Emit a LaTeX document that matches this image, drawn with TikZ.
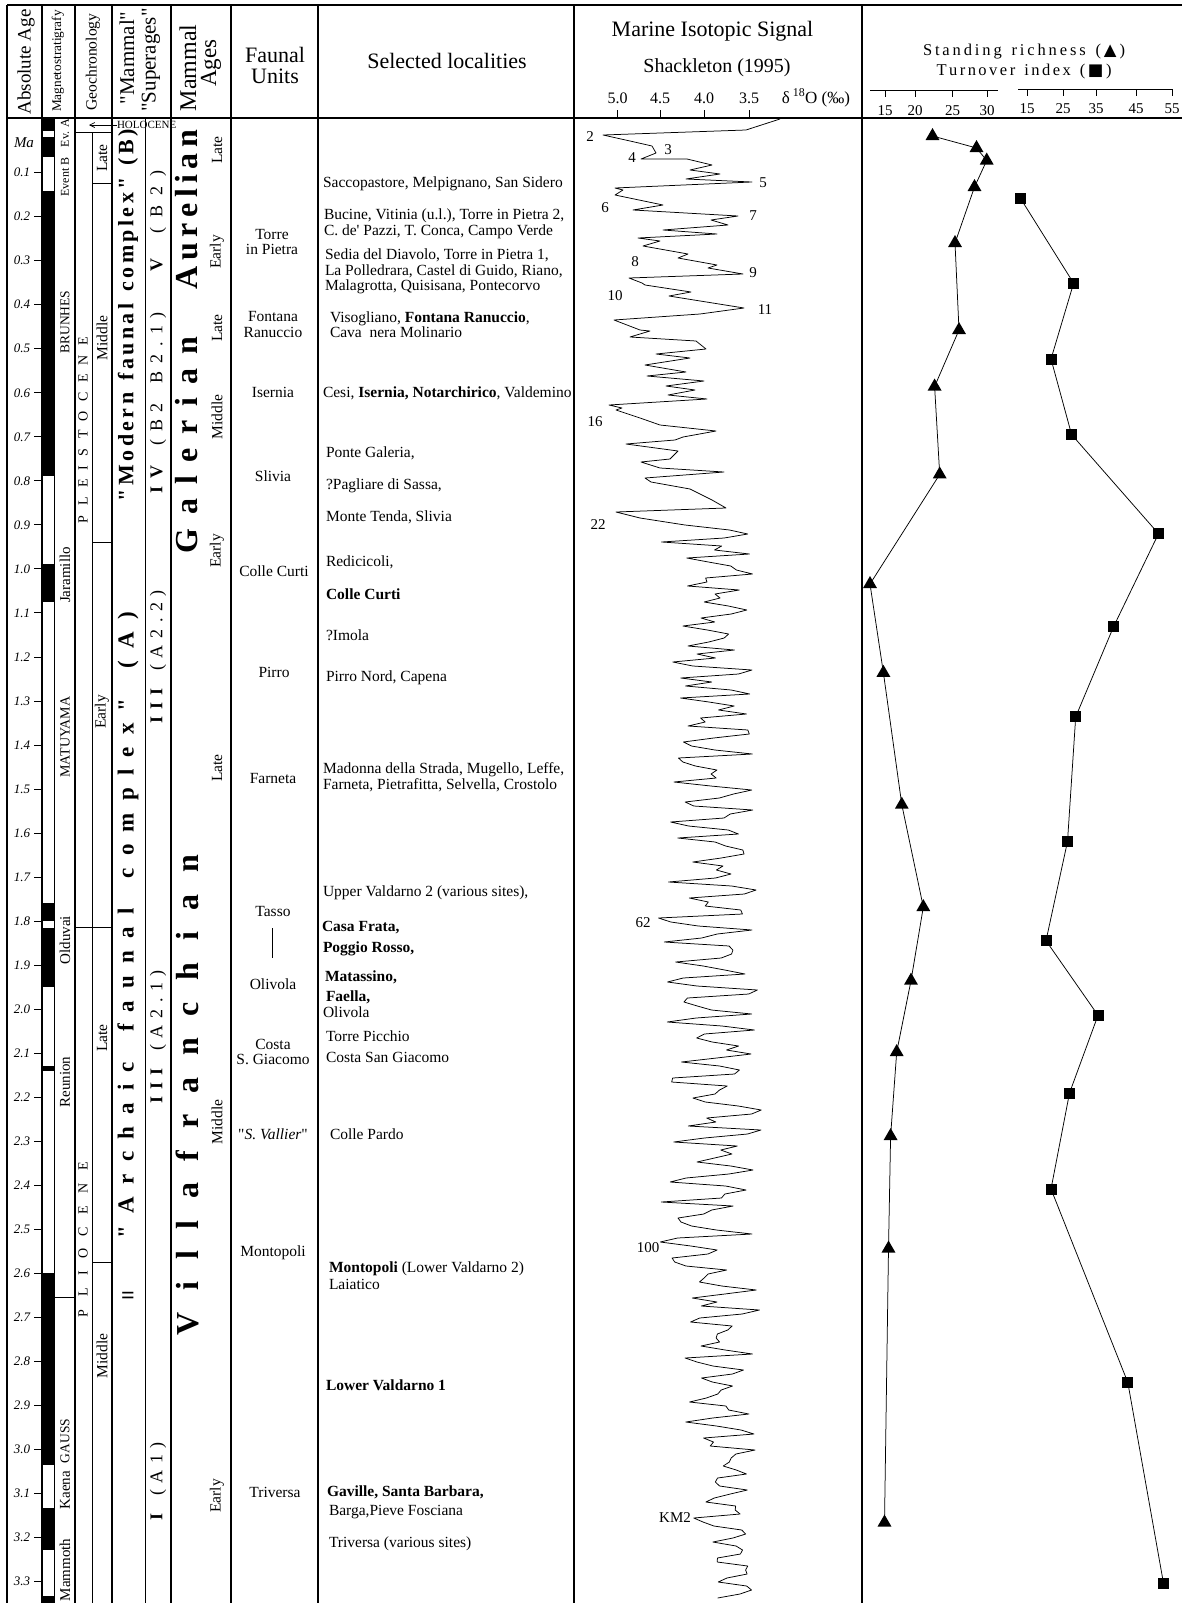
\documentclass[tikz,border=0pt]{standalone}
\usepackage{fontspec}
\setmainfont{Liberation Serif}[Ligatures=TeXOff]
\newfontfamily\symfont{DejaVu Sans}
\usetikzlibrary{shapes.geometric,arrows.meta}
\newcommand\fsz[1]{\fontsize{#1}{#1}\selectfont}
\newcommand\spreadit[2]{\hbox to #1{\spreadfirst#2\relax}}
\def\spreadfirst#1{#1\spreadaux}
\def\spreadaux#1{\ifx#1\relax\else\hfill#1\expandafter\spreadaux\fi}
\newcommand\bI{\textbf{I}}
\newcommand\bV{\textbf{V}}
\newcommand\tri{{\symfont ▲}}
\newcommand\sqrmark{{\symfont ■}}
\tikzset{
  every node/.style={inner sep=0pt, outer sep=0pt},
  colline/.style={line width=1.1pt},
  inline/.style={line width=0.9pt},
  loc/.style={anchor=base west, font=\fsz{15.5}},
  locb/.style={anchor=base west, font=\fsz{15.5}\bfseries},
  fu/.style={anchor=base, font=\fsz{15.5}},
  vlab/.style={rotate=90, font=\fsz{15.5}},
  mag/.style={rotate=90, font=\fsz{15}},
  agebig/.style={rotate=90, font=\fsz{32}\bfseries},
  supbig/.style={rotate=90, font=\fsz{22}\bfseries},
  supsm/.style={rotate=90, font=\fsz{18}},
  tlab/.style={font=\fsz{13}\itshape},
  isolab/.style={font=\fsz{15}},
  isocurve/.style={line width=0.75pt, line join=round},
  series/.style={line width=0.75pt},
  tri/.style={regular polygon, regular polygon sides=3, fill=black, minimum size=16pt},
  sq/.style={rectangle, fill=black, minimum size=11pt},
  axnum/.style={anchor=base, font=\fsz{15}},
}
\begin{document}
\begin{tikzpicture}[x=1pt,y=-1pt]
\useasboundingbox (0,0) rectangle (1182,1603);
% magnetic polarity
\foreach \a/\b in {118/131,137/157,191/476,564/602,903/921,928/987,1066/1071,1273/1465,1508/1550,1596/1603}
  \fill (42,\a) rectangle (54,\b);
% frame
\draw[colline] (7,5) -- (1182,5);
\draw[colline] (7,118) -- (1182,118);
\foreach \xx in {7,42,75,112,171,231,318,574,862} \draw[colline] (\xx,5) -- (\xx,1603);
\draw[inline] (54,118) -- (54,1603);
\draw[inline] (145,118) -- (145,1603);
\draw[inline] (92,132) -- (92,1603);
\draw[inline] (75,132) -- (112,132);
\draw[inline] (92,183) -- (112,183);
\draw[inline] (92,542) -- (112,542);
\draw[inline] (75,927) -- (112,927);
\draw[inline] (92,1262) -- (112,1262);
\draw[inline] (54,1297) -- (75,1297);
% headers
\node[rotate=90, font=\fsz{19}] (hAbs) at (26,62) {Absolute Age};
\node[rotate=90, font=\fsz{13.3}] (hMag) at (58,61) {Magnetostratigrafy};
\node[rotate=90, font=\fsz{15.6}] (hGeo) at (93,62) {Geochronology};
\node[rotate=90, font=\fsz{21}] (hMam1) at (127,58) {"Mammal"};
\node[rotate=90, font=\fsz{21}] (hMam2) at (151,60) {"Superages"};
\node[rotate=90, font=\fsz{24}] (hMA1) at (188,68) {Mammal};
\node[rotate=90, font=\fsz{23}] (hMA2) at (211,63) {Ages};
\node[anchor=base, font=\fsz{22}] (hFU1) at (275,63) {Faunal};
\node[anchor=base, font=\fsz{22}] (hFU2) at (275,83) {Units};
\node[anchor=base, font=\fsz{22}] (hSL) at (447,68) {Selected localities};
\node[anchor=base, font=\fsz{22}] (hMI) at (712.5,37) {Marine Isotopic Signal};
\node[anchor=base, font=\fsz{20}] (hSh) at (717,72) {Shackleton (1995)};
\node[anchor=base, font=\fsz{17}] (hd18) at (816,103) {δ\,\textsuperscript{18}O (‰)};
\foreach \xx/\v [count=\i] in {617.7/5.0,660/4.5,704/4.0,749/3.5}{
  \draw[inline] (\xx,110) -- (\xx,118);
  \node[axnum, font=\fsz{16}] (ia\i) at (\xx,103) {\v};
}
\node[anchor=base, font=\fsz{16.5}] (hSR) at (1024,56) {\spreadit{202pt}{Standing~richness~(\tri)}};
\node[anchor=base, font=\fsz{16.5}] (hTI) at (1024,75) {\spreadit{175pt}{Turnover~index~(\sqrmark)}};
\draw[inline] (870,90) -- (998,90);
\foreach \xx/\v in {885/15,915/20,952.5/25,987/30}{
  \draw[inline] (\xx,90) -- (\xx,97);
  \node[axnum] (sa\v) at (\xx,115) {\v};
}
\draw[inline] (1018,89) -- (1172,89);
\foreach \xx/\v in {1027/15,1063/25,1096/35,1136/45,1172/55}{
  \draw[inline] (\xx,89) -- (\xx,96);
  \node[axnum] (ta\v) at (\xx,113) {\v};
}
% age axis
\node[font=\fsz{15}\itshape] (ma) at (24,143) {Ma};
\foreach \k in {1,...,33}{
  \pgfmathsetmacro\yy{128.6+44.03*\k}
  \pgfmathtruncatemacro\ipart{floor(\k/10)}
  \pgfmathtruncatemacro\fpart{\k-10*\ipart}
  \draw[inline] (34,\yy) -- (42,\yy);
  \node[tlab] (age\k) at (22,\yy) {\ipart.\fpart};
}
% holocene
\node[anchor=west, font=\fsz{11}] (holo) at (117,125) {HOLOCENE};
\coordinate (holoend) at (89,125);
\draw[line width=0.7pt, -{Straight Barb[length=5pt,width=5pt]}] (holo.west) -- (holoend);
% magnetostratigraphy labels
\node[mag, font=\fsz{12}] (evA) at (65,133) {Ev. A};
\node[mag, font=\fsz{12}] (evB) at (65,177) {Event B};
\node[mag, font=\fsz{13.5}] (brun) at (65,322) {BRUNHES};
\node[mag] (jar) at (65,575) {Jaramillo};
\node[mag, font=\fsz{14}] (matu) at (65,737) {MATUYAMA};
\node[mag] (oldu) at (65,940) {Olduvai};
\node[mag] (reun) at (65,1082) {Reunion};
\node[mag, font=\fsz{13.5}] (gauss) at (65,1441) {GAUSS};
\node[mag] (kaena) at (65,1490) {Kaena};
\node[mag] (mammoth) at (65,1570) {Mammoth};
% geochronology
\node[rotate=90, font=\fsz{14}] (pleist) at (83,430) {\spreadit{186pt}{PLEISTOCENE}};
\node[rotate=90, font=\fsz{14}] (plio) at (83,1239.5) {\spreadit{155pt}{PLIOCENE}};
\node[vlab] (g1) at (102,158) {Late};
\node[vlab] (g2) at (102,338) {Middle};
\node[vlab] (g3) at (102,712) {Early};
\node[vlab] (g4) at (102,1038) {Late};
\node[vlab] (g5) at (102,1356) {Middle};
% superages
\node[supbig] (modern) at (128,315) {\spreadit{372pt}{"Modern~faunal~complex"~(B)}};
\node[supbig, font=\fsz{23}\bfseries] (archaic) at (128,925) {\spreadit{626pt}{"Archaic~faunal~complex"~(A)}};
\node[font=\fsz{24}\bfseries] (eqs) at (128,1298) {=};
\node[supsm] (s5) at (158,220.5) {\spreadit{101pt}{\bV~(B2)}};
\node[supsm] (s4) at (158,402.5) {\spreadit{181pt}{\bI\bV~(B2~B2.1)}};
\node[supsm] (s3b) at (158,656.5) {\spreadit{133pt}{\bI\bI\bI~(A2.2)}};
\node[supsm] (s3a) at (158,1036.5) {\spreadit{133pt}{\bI\bI\bI~(A2.1)}};
\node[supsm] (s1) at (158,1481) {\spreadit{78pt}{\bI~(A1)}};
% mammal ages
\node[agebig] (aur) at (187,209.5) {\spreadit{159pt}{Aurelian}};
\node[agebig] (gal) at (187,445) {\spreadit{216pt}{Galerian}};
\node[agebig] (vil) at (187,1095) {\spreadit{480pt}{Villafranchian}};
\node[vlab] (m1) at (217,150) {Late};
\node[vlab] (m2) at (217,252) {Early};
\node[vlab] (m3) at (217,328) {Late};
\node[vlab] (m4) at (217,417) {Middle};
\node[vlab] (m5) at (217,551) {Early};
\node[vlab] (m6) at (217,768) {Late};
\node[vlab] (m7) at (217,1122) {Middle};
\node[vlab] (m8) at (217,1496) {Early};
% faunal units
\node[fu] (f1a) at (272,239.5) {Torre};
\node[fu] (f1b) at (272,254.5) {in Pietra};
\node[fu] (f2a) at (273,321.5) {Fontana};
\node[fu] (f2b) at (273,337.5) {Ranuccio};
\node[fu] (f3) at (273,397.5) {Isernia};
\node[fu] (f4) at (273,481.5) {Slivia};
\node[fu] (f5) at (274,576) {Colle Curti};
\node[fu] (f6) at (274,677.5) {Pirro};
\node[fu] (f7) at (273,783.5) {Farneta};
\node[fu] (f8) at (273,916) {Tasso};
\coordinate (tl1) at (272,928);
\coordinate (tl2) at (272,958);
\draw[line width=0.7pt] (tl1) -- (tl2);
\node[fu] (f9) at (273,989.5) {Olivola};
\node[fu] (f10a) at (273,1049.5) {Costa};
\node[fu] (f10b) at (273,1064.5) {S. Giacomo};
\node[fu] (f11) at (273,1139.5) {"\textit{S. Vallier}"};
\node[fu] (f12) at (273,1256.5) {Montopoli};
\node[fu] (f13) at (275,1497.5) {Triversa};
% localities
\node[loc] (l1) at (323,187.5) {Saccopastore, Melpignano, San Sidero};
\node[loc] (l2) at (324,219.5) {Bucine, Vitinia (u.l.), Torre in Pietra 2,};
\node[loc] (l3) at (324,235.5) {C. de' Pazzi, T. Conca, Campo Verde};
\node[loc] (l4) at (325,259.5) {Sedia del Diavolo, Torre in Pietra 1,};
\node[loc] (l5) at (325,275.5) {La Polledrara, Castel di Guido, Riano,};
\node[loc] (l6) at (325,290.5) {Malagrotta, Quisisana, Pontecorvo};
\node[loc] (l7) at (330,322.5) {Visogliano, \textbf{Fontana Ranuccio},};
\node[loc] (l8) at (330,337.5) {Cava\ \ nera Molinario};
\node[loc] (l9) at (323,397.5) {Cesi, \textbf{Isernia, Notarchirico}, Valdemino};
\node[loc] (l10) at (326,457.5) {Ponte Galeria,};
\node[loc] (l11) at (326,489.5) {?Pagliare di Sassa,};
\node[loc] (l12) at (326,521.5) {Monte Tenda, Slivia};
\node[loc] (l13) at (326,566.5) {Redicicoli,};
\node[locb] (l14) at (326,599.5) {Colle Curti};
\node[loc] (l15) at (326,640.5) {?Imola};
\node[loc] (l16) at (326,681.5) {Pirro Nord, Capena};
\node[loc] (l17) at (323,773.5) {Madonna della Strada, Mugello, Leffe,};
\node[loc] (l18) at (323,789.5) {Farneta, Pietrafitta, Selvella, Crostolo};
\node[loc] (l19) at (323,896.5) {Upper Valdarno 2 (various sites),};
\node[locb] (l20) at (322,931.5) {Casa Frata,};
\node[locb] (l21) at (323,952.5) {Poggio Rosso,};
\node[locb] (l22) at (325,981.5) {Matassino,};
\node[locb] (l23) at (326,1001.5) {Faella,};
\node[loc] (l24) at (323,1017.5) {Olivola};
\node[loc] (l25) at (326,1041.5) {Torre Picchio};
\node[loc] (l26) at (326,1062.5) {Costa San Giacomo};
\node[loc] (l27) at (330,1139.5) {Colle Pardo};
\node[loc] (l28) at (329,1272.5) {\textbf{Montopoli} (Lower Valdarno 2)};
\node[loc] (l29) at (329,1289.5) {Laiatico};
\node[locb] (l30) at (326,1390.5) {Lower Valdarno 1};
\node[locb] (l31) at (327,1496.5) {Gaville, Santa Barbara,};
\node[loc] (l32) at (329,1515.5) {Barga,Pieve Fosciana};
\node[loc] (l33) at (329,1547.5) {Triversa (various sites)};
% isotope curve
\pgfmathsetseed{12}
\draw[isocurve] (780,119) -- (746,130) -- (603,135) -- (630,141) -- (652,146) -- (656,153) -- (641,159) -- (687,159) -- (712,165) -- (690,170) -- (720,174) -- (686,179) -- (752,182) -- (615,188) -- (623,190) -- (615,195) -- (663,205) -- (633,210) -- (738,216) -- (711,220) -- (728,225) -- (663,230) -- (717,234) -- (638,238) -- (660,241) -- (643,246) -- (688,254) -- (678,258) -- (717,265) -- (708,268) -- (743,274) -- (629,278) -- (642,283) -- (645,285) -- (691,292) -- (669,296) -- (744,308) -- (700,314) -- (614,320) -- (640,330) -- (650,331) -- (630,337) -- (696,341) -- (706,349) -- (656,354) -- (690,358) -- (645,365) -- (686,372) -- (647,376) -- (704,381) -- (666,386) -- (695,390) -- (668,395) -- (707,399) -- (609,405) -- (622,408) -- (616,410) -- (640,418) -- (660,425) -- (716,431) -- (683,437) -- (675,440) -- (626,444) -- (678,451) -- (670,459) -- (641,462) -- (660,468) -- (724,472) -- (645,478) -- (651,482) -- (690,489) -- (700,494) -- (712,500) -- (726,508) -- (616,512) -- (640,518) -- (685,525)
  -- plot[variable=\t, domain=1:268, samples=268] ({711 + max(0,4*\t-724)*0.07 + (52 - max(0,4*\t-724)*0.08)*(0.45*sin(72*mod(\t,5)) + 1.1*(rnd-0.5)) - 40*max(0,1-abs(4*\t-397)/9) - 32*max(0,1-abs(4*\t-724)/9) - 22*max(0,1-abs(4*\t-992)/9)}, {526+4*\t});
% isotope stage labels
\node[isolab] (n2) at (590,137) {2};
\node[isolab] (n3) at (668,150) {3};
\node[isolab] (n4) at (632,158) {4};
\node[isolab] (n5) at (763,183) {5};
\node[isolab] (n6) at (605,208) {6};
\node[isolab] (n7) at (753,216) {7};
\node[isolab] (n8) at (635,262) {8};
\node[isolab] (n9) at (753,273) {9};
\node[isolab] (n10) at (615,296) {10};
\node[isolab] (n11) at (765,310) {11};
\node[isolab] (n16) at (595,422) {16};
\node[isolab] (n22) at (598,525) {22};
\node[isolab] (n62) at (643,923) {62};
\node[isolab] (n100) at (648,1248) {100};
\node[isolab] (nkm) at (675,1518) {KM2};
% standing richness
\foreach \p [count=\i] in {(932.5,136),(976.5,148),(986.7,160.5),(974.5,187),(955,243),(959,330),(934.6,386.5),(939.7,474.4),(870,584),(883.4,672.8),(901.8,804.7),(923.3,907),(911,980.6),(896.7,1052),(890.6,1136),(888.5,1248.5),(884.5,1522.5)}
  \node[tri] (r\i) at \p {};
\foreach \i in {1,...,16}{
  \pgfmathtruncatemacro\j{\i+1}
  \draw[series] (r\i.center) -- (r\j.center);
}
% turnover
\foreach \p [count=\i] in {(1020.5,198.4),(1073.6,283.2),(1051,359),(1071.6,434.6),(1158.5,533.7),(1113.5,626.8),(1075.7,716.8),(1067.5,841.5),(1046,940.7),(1098,1015.3),(1069.5,1093),(1051,1189),(1127.8,1382.4),(1163.6,1583.9)}
  \node[sq] (q\i) at \p {};
\foreach \i in {1,...,13}{
  \pgfmathtruncatemacro\j{\i+1}
  \draw[series] (q\i.center) -- (q\j.center);
}
\end{tikzpicture}
\end{document}
